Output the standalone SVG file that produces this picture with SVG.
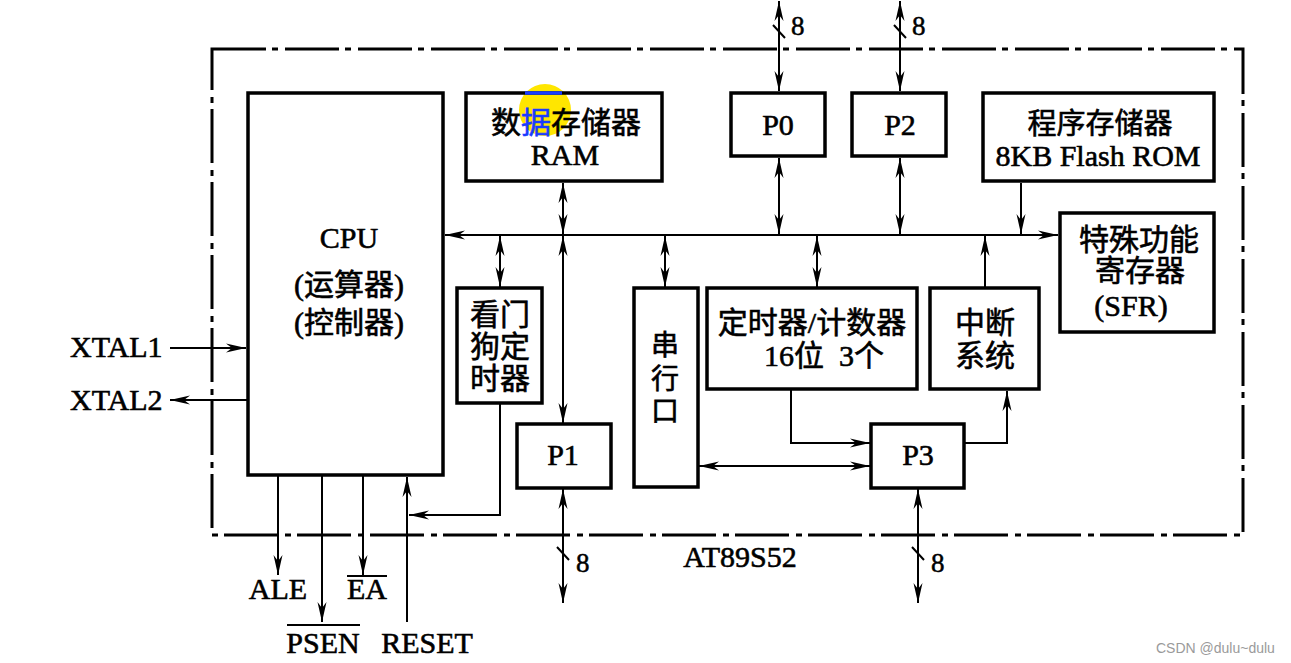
<svg xmlns="http://www.w3.org/2000/svg" width="1291" height="663" viewBox="0 0 1291 663">
<style>
.bx{fill:none;stroke:#000;stroke-width:3.5}
.cn{fill:none;stroke:#000;stroke-width:2}
.t{font-family:"Liberation Serif","Noto Sans CJK SC",serif;font-size:30px;fill:#000;stroke:#000;stroke-width:0.6;text-anchor:middle}
.n{font-family:"Liberation Serif",serif;font-size:27px;fill:#000;stroke:#000;stroke-width:0.5}
.ol{stroke:#000;stroke-width:2}
</style>
<defs>
<marker id="ah" viewBox="0 0 20 10" refX="20" refY="5" markerWidth="20" markerHeight="10" markerUnits="userSpaceOnUse" orient="auto-start-reverse">
<path d="M0,0.5 L20,5 L0,9.5 L6,5 z" fill="#000"/>
</marker>
</defs>
<rect width="1291" height="663" fill="#fff"/>
<g id="chip">
<path d="M212,49 H1243 V535 H212 Z" fill="none" stroke="#000" stroke-width="3" stroke-dasharray="54 6 6 7"/>
<text class="t" x="740" y="567">AT89S52</text>
</g>
<g id="cpu">
<rect class="bx" x="248" y="93" width="195" height="382"/>
<text class="t" x="349" y="248">CPU</text>
<text class="t" x="349" y="295">(运算器)</text>
<text class="t" x="349" y="333">(控制器)</text>
</g>
<g id="ram">
<circle cx="545" cy="110" r="26" fill="#ffe600"/>
<rect class="bx" x="466" y="93" width="196" height="88"/>
<path d="M525,93 H562" stroke="#1a3cff" stroke-width="3.5"/>
<text class="t" x="566" y="133">数<tspan fill="#1a3cff" stroke="#1a3cff">据</tspan>存储器</text>
<text class="t" x="565" y="165">RAM</text>
</g>
<g id="p0">
<rect class="bx" x="731" y="93" width="94" height="63"/>
<text class="t" x="778" y="135">P0</text>
</g>
<g id="p2">
<rect class="bx" x="852" y="93" width="94" height="63"/>
<text class="t" x="900" y="135">P2</text>
</g>
<g id="rom">
<rect class="bx" x="983" y="93" width="231" height="88"/>
<text class="t" x="1100" y="134" style="font-size:29px">程序存储器</text>
<text class="t" x="1098" y="166">8KB Flash ROM</text>
</g>
<g id="sfr">
<rect class="bx" x="1060" y="213" width="154" height="119"/>
<text class="t" x="1139" y="250">特殊功能</text>
<text class="t" x="1140" y="281">寄存器</text>
<text class="t" x="1131" y="316">(SFR)</text>
</g>
<g id="watchdog">
<rect class="bx" x="457" y="288" width="85" height="115"/>
<text class="t" x="500" y="325">看门</text>
<text class="t" x="500" y="357">狗定</text>
<text class="t" x="500" y="389">时器</text>
</g>
<g id="serial">
<rect class="bx" x="634" y="288" width="64" height="199"/>
<text class="t" x="665" y="355" style="font-size:28px">串</text>
<text class="t" x="665" y="389" style="font-size:28px">行</text>
<text class="t" x="665" y="421" style="font-size:28px">口</text>
</g>
<g id="timer">
<rect class="bx" x="707" y="288" width="210" height="101"/>
<text class="t" x="812" y="333">定时器/计数器</text>
<text class="t" x="824" y="366" style="white-space:pre">16位  3个</text>
</g>
<g id="interrupt">
<rect class="bx" x="930" y="288" width="109" height="101"/>
<text class="t" x="985" y="333">中断</text>
<text class="t" x="985" y="366">系统</text>
</g>
<g id="p1">
<rect class="bx" x="517" y="424" width="94" height="64"/>
<text class="t" x="563" y="465">P1</text>
</g>
<g id="p3">
<rect class="bx" x="871" y="424" width="93" height="64"/>
<text class="t" x="918" y="465">P3</text>
</g>
<g id="pins">
<text class="t" x="70" y="357" style="text-anchor:start">XTAL1</text>
<text class="t" x="70" y="410" style="text-anchor:start">XTAL2</text>
<text class="t" x="278" y="599">ALE</text>
<text class="t" x="323" y="653">PSEN</text>
<line class="ol" x1="287" y1="625" x2="360" y2="625"/>
<text class="t" x="367" y="599">EA</text>
<line class="ol" x1="347" y1="576" x2="387" y2="576"/>
<text class="t" x="427" y="653">RESET</text>
</g>
<g id="connectors">
<path class="cn" d="M170,348 H246" marker-end="url(#ah)"/>
<path class="cn" d="M247,400 H170" marker-end="url(#ah)"/>
<path class="cn" d="M445,235 H1058" marker-start="url(#ah)" marker-end="url(#ah)"/>
<path class="cn" d="M563,183 V234" marker-start="url(#ah)" marker-end="url(#ah)"/>
<path class="cn" d="M563,236 V423" marker-start="url(#ah)" marker-end="url(#ah)"/>
<path class="cn" d="M500,236 V287" marker-start="url(#ah)" marker-end="url(#ah)"/>
<path class="cn" d="M500,404 V515 H409" marker-end="url(#ah)"/>
<path class="cn" d="M407,622 V477" marker-end="url(#ah)"/>
<path class="cn" d="M278,476 V575" marker-end="url(#ah)"/>
<path class="cn" d="M322,476 V622" marker-end="url(#ah)"/>
<path class="cn" d="M363,476 V575" marker-end="url(#ah)"/>
<path class="cn" d="M779,1 V91" marker-start="url(#ah)" marker-end="url(#ah)"/>
<path class="cn" d="M779,158 V234" marker-start="url(#ah)" marker-end="url(#ah)"/>
<path class="cn" d="M900,1 V91" marker-start="url(#ah)" marker-end="url(#ah)"/>
<path class="cn" d="M900,158 V234" marker-start="url(#ah)" marker-end="url(#ah)"/>
<path class="cn" d="M1021,183 V234" marker-end="url(#ah)"/>
<path class="cn" d="M665,236 V287" marker-start="url(#ah)" marker-end="url(#ah)"/>
<path class="cn" d="M817,236 V287" marker-start="url(#ah)" marker-end="url(#ah)"/>
<path class="cn" d="M985,288 V236" marker-end="url(#ah)"/>
<path class="cn" d="M791,390 V443 H870" marker-end="url(#ah)"/>
<path class="cn" d="M965,443 H1007 V391" marker-end="url(#ah)"/>
<path class="cn" d="M699,466 H870" marker-start="url(#ah)" marker-end="url(#ah)"/>
<path class="cn" d="M563,489 V603" marker-start="url(#ah)" marker-end="url(#ah)"/>
<path class="cn" d="M918,489 V603" marker-start="url(#ah)" marker-end="url(#ah)"/>
<path class="cn" d="M773,25 L785,38 M894,25 L906,38 M557,547 L569,560 M912,547 L924,560"/>
<text class="n" x="791" y="35">8</text>
<text class="n" x="912" y="35">8</text>
<text class="n" x="576" y="572">8</text>
<text class="n" x="931" y="572">8</text>
</g>
<text x="1156" y="653" style="font-family:'Liberation Sans',sans-serif;font-size:14px;fill:#9a9a9a">CSDN @dulu~dulu</text>
</svg>
